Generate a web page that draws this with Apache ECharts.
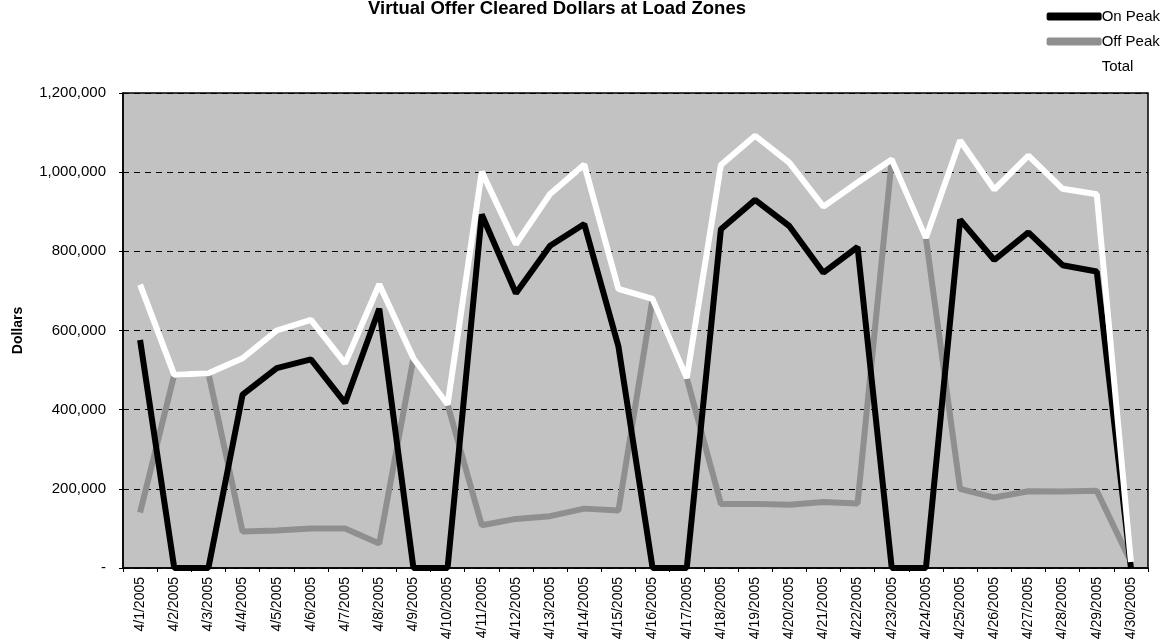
<!DOCTYPE html>
<html>
<head>
<meta charset="utf-8">
<script src="https://cdn.jsdelivr.net/npm/echarts@6/dist/echarts.min.js"></script>
<style>
html,body{margin:0;padding:0;background:#fff;}
#chart{width:1171px;height:643px;}
</style>
</head>
<body>
<div id="chart"></div>
<script>
const categories = ['4/1/2005','4/2/2005','4/3/2005','4/4/2005','4/5/2005','4/6/2005','4/7/2005','4/8/2005','4/9/2005','4/10/2005','4/11/2005','4/12/2005','4/13/2005','4/14/2005','4/15/2005','4/16/2005','4/17/2005','4/18/2005','4/19/2005','4/20/2005','4/21/2005','4/22/2005','4/23/2005','4/24/2005','4/25/2005','4/26/2005','4/27/2005','4/28/2005','4/29/2005','4/30/2005'];
const onPeak  = [576000,0,0,438000,505000,527000,417000,655000,0,0,893000,694000,814000,869000,560000,0,0,856000,930000,864000,746000,811000,0,0,880000,778000,848000,765000,749000,0];
const offPeak = [140000,488000,492000,92000,95000,100000,100000,62000,530000,413000,108000,124000,131000,150000,145000,680000,480000,162000,162000,160000,167000,163000,1032000,834000,200000,178000,194000,193000,195000,15000];
const total   = [716000,488000,492000,530000,600000,627000,517000,717000,530000,413000,1001000,818000,945000,1019000,705000,680000,480000,1018000,1092000,1024000,913000,974000,1032000,834000,1080000,956000,1042000,958000,944000,15000];
const yTicks = [0,200000,400000,600000,800000,1000000,1200000];

const chart = echarts.init(document.getElementById('chart'));
const font = 'Liberation Sans, Arial, sans-serif';
chart.setOption({
  backgroundColor: '#ffffff',
  animation: false,
  title: {
    text: 'Virtual Offer Cleared Dollars at Load Zones',
    left: 552, top: -6, textAlign: 'center',
    textStyle: {fontFamily: font, fontSize: 18.5, fontWeight: 'bold', color: '#000'}
  },
  legend: {
    orient: 'vertical', right: 6, top: 4, itemGap: 10,
    itemWidth: 55, itemHeight: 8, icon: 'roundRect',
    data: ['On Peak','Off Peak','Total'],
    textStyle: {fontFamily: font, fontSize: 15, color: '#000', padding: [0,0,0,-5]}
  },
  grid: {left: 123, right: 23, top: 93, bottom: 75, show: true,
         backgroundColor: '#c2c2c2', borderColor: '#000', borderWidth: 1.5},
  xAxis: {
    type: 'category', data: categories, boundaryGap: true,
    axisLine: {lineStyle: {color: '#000', width: 1.5}},
    axisTick: {show: true, length: 4, lineStyle: {color: '#000'}},
    axisLabel: {rotate: 90, interval: 0, fontFamily: font, fontSize: 14, color: '#000', margin: 9}
  },
  yAxis: {
    type: 'value', min: 0, max: 1200000, interval: 200000,
    name: 'Dollars', nameLocation: 'middle', nameGap: 98, nameRotate: 90,
    nameTextStyle: {fontFamily: font, fontSize: 14, fontWeight: 'bold', color: '#000'},
    axisLine: {show: true, lineStyle: {color: '#000', width: 1.5}},
    axisTick: {show: true, length: 4, lineStyle: {color: '#000'}},
    axisLabel: {fontFamily: font, fontSize: 15, color: '#000', margin: 17,
      formatter: function(v){ return v === yTicks[0] ? '-' : v.toLocaleString('en-US'); }},
    splitLine: {show: true, lineStyle: {color: '#000', type: [6,5], width: 1}}
  },
  series: [
    {name: 'Off Peak', type: 'line', data: offPeak, symbol: 'none', z: 2,
     lineStyle: {color: '#8f8f8f', width: 6}, itemStyle: {color: '#8f8f8f'}},
    {name: 'On Peak', type: 'line', data: onPeak, symbol: 'none', z: 3,
     lineStyle: {color: '#000', width: 6}, itemStyle: {color: '#000'}},
    {name: 'Total', type: 'line', data: total, symbol: 'none', z: 4,
     lineStyle: {color: '#ffffff', width: 6}, itemStyle: {color: '#ffffff'}}
  ]
});
</script>
</body>
</html>
